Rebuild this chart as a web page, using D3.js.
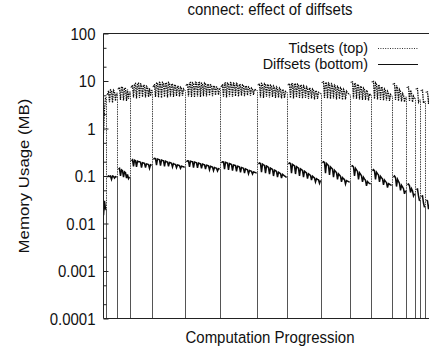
<!DOCTYPE html>
<html>
<head>
<meta charset="utf-8">
<title>connect: effect of diffsets</title>
<script src="https://d3js.org/d3.v7.min.js"></script>
<style>
  body { margin: 0; background: #fff; }
  text { font-family: "Liberation Sans", Arial, sans-serif; fill: #111; }
</style>
</head>
<body>
<div id="chartDiv"></div>
<script>
// memory usage (MB), one value per progression step, one array per run between resets
var tidsetRuns = [
  [0.8, 2.5, 4.5],
  [5.2, 6.2, 3.6, 6.5, 6.3, 3.5, 6.4, 6.0, 3.8, 5.6],
  [6.8, 7.4, 4.0, 7.6, 7.3, 3.9, 7.2, 6.9, 3.8, 6.6, 4.2, 5.9],
  [7.4, 8.2, 4.5, 8.6, 8.9, 4.3, 8.8, 9.0, 4.4, 8.7, 8.4, 4.6, 8.3, 8.0, 4.5, 7.8, 7.4, 4.6, 7.0, 4.8, 6.4],
  [7.6, 8.6, 4.6, 9.0, 9.2, 4.5, 9.3, 9.0, 4.4, 9.4, 9.1, 4.6, 9.2, 8.9, 4.5, 9.3, 8.8, 4.7, 8.7, 8.5, 4.6, 8.4, 8.0, 4.8, 7.9, 7.6, 4.7, 7.4, 7.0, 4.9, 6.8, 6.3],
  [8.1, 8.8, 4.7, 9.1, 9.3, 4.6, 9.2, 8.9, 4.5, 9.4, 9.2, 4.7, 9.1, 9.3, 4.6, 9.0, 8.8, 4.8, 9.1, 8.7, 4.7, 8.6, 8.4, 4.9, 8.3, 8.1, 4.8, 7.9, 7.7, 5.0, 7.5, 7.3, 5.1, 7.0],
  [7.6, 8.5, 4.6, 8.9, 9.1, 4.5, 9.0, 8.7, 4.7, 9.2, 8.9, 4.6, 9.0, 8.6, 4.8, 8.9, 8.5, 4.7, 8.6, 8.2, 4.9, 8.3, 8.0, 4.8, 7.9, 7.6, 5.0, 7.5, 7.2, 4.9, 7.1, 6.8, 5.1, 6.7, 6.5, 6.3],
  [8.3, 8.8, 4.5, 8.9, 8.6, 4.4, 8.8, 8.4, 4.6, 8.5, 8.1, 4.5, 8.2, 7.8, 4.6, 7.9, 7.4, 4.4, 7.5, 7.0, 4.5, 7.1, 6.6, 4.3, 6.7, 6.3, 4.4, 6.0, 5.7],
  [8.3, 8.9, 4.4, 9.0, 8.7, 4.3, 8.9, 8.5, 4.5, 8.6, 8.2, 4.4, 8.3, 7.9, 4.3, 8.0, 7.5, 4.4, 7.6, 7.1, 4.2, 7.2, 6.7, 4.3, 6.8, 6.4, 4.1, 6.3, 6.0, 4.2, 5.8, 5.6, 5.4],
  [9.3, 9.6, 4.4, 9.4, 9.0, 4.3, 9.1, 8.6, 4.2, 8.7, 8.2, 4.3, 8.2, 7.7, 4.1, 7.7, 7.2, 4.2, 7.2, 6.7, 4.0, 6.7, 6.2, 4.1, 6.1, 5.7, 5.4, 5.1],
  [9.4, 9.6, 4.3, 9.1, 8.6, 4.2, 8.5, 8.0, 4.1, 7.8, 7.3, 4.0, 7.1, 6.6, 4.0, 6.4, 5.9, 3.9, 5.4, 5.0],
  [9.6, 9.8, 4.2, 9.2, 8.6, 4.1, 8.4, 7.8, 4.0, 7.6, 7.0, 3.9, 6.8, 6.3, 3.9, 6.1, 5.6, 3.8, 5.2, 4.8],
  [8.6, 8.8, 4.0, 8.0, 7.2, 3.8, 6.6, 6.0, 3.7, 5.5, 5.1, 3.6, 4.6],
  [7.3, 7.5, 3.8, 6.4, 5.6, 3.6, 4.8, 4.3],
  [6.8, 6.9, 3.6, 4.0],
  [6.3, 6.4, 3.4, 3.7],
  [5.8, 5.9, 3.3, 5.0, 4.5, 3.2, 4.0, 3.6, 3.4]
];

var diffsetRuns = [
  [0.015, 0.03, 0.02],
  [0.095, 0.1, 0.098, 0.1, 0.085, 0.1, 0.098, 0.09, 0.097, 0.095],
  [0.14, 0.145, 0.1, 0.135, 0.13, 0.095, 0.122, 0.117, 0.09, 0.108, 0.088, 0.095],
  [0.21, 0.22, 0.16, 0.215, 0.21, 0.155, 0.205, 0.2, 0.2, 0.195, 0.15, 0.19, 0.188, 0.185, 0.15, 0.18, 0.178, 0.175, 0.145, 0.172, 0.168],
  [0.225, 0.236, 0.232, 0.17, 0.228, 0.224, 0.22, 0.165, 0.216, 0.212, 0.21, 0.16, 0.205, 0.2, 0.198, 0.16, 0.193, 0.19, 0.186, 0.155, 0.182, 0.178, 0.175, 0.15, 0.171, 0.168, 0.165, 0.145, 0.161, 0.158, 0.156, 0.153],
  [0.2, 0.21, 0.208, 0.155, 0.205, 0.202, 0.2, 0.15, 0.197, 0.194, 0.19, 0.148, 0.187, 0.184, 0.181, 0.145, 0.178, 0.175, 0.172, 0.14, 0.169, 0.166, 0.163, 0.135, 0.16, 0.157, 0.154, 0.13, 0.151, 0.148, 0.146, 0.128, 0.143, 0.14],
  [0.19, 0.2, 0.198, 0.14, 0.194, 0.19, 0.187, 0.135, 0.183, 0.179, 0.175, 0.13, 0.171, 0.168, 0.165, 0.125, 0.161, 0.158, 0.155, 0.12, 0.151, 0.148, 0.145, 0.115, 0.141, 0.138, 0.135, 0.112, 0.131, 0.128, 0.125, 0.11, 0.122, 0.12, 0.118, 0.116],
  [0.18, 0.188, 0.184, 0.12, 0.178, 0.172, 0.167, 0.115, 0.162, 0.157, 0.152, 0.11, 0.147, 0.142, 0.138, 0.1, 0.133, 0.129, 0.125, 0.095, 0.12, 0.116, 0.112, 0.09, 0.108, 0.104, 0.1, 0.097, 0.094],
  [0.18, 0.188, 0.183, 0.115, 0.176, 0.17, 0.164, 0.11, 0.158, 0.152, 0.147, 0.1, 0.141, 0.136, 0.131, 0.095, 0.126, 0.121, 0.116, 0.088, 0.111, 0.107, 0.103, 0.082, 0.099, 0.095, 0.091, 0.075, 0.088, 0.085, 0.083, 0.07, 0.08],
  [0.19, 0.2, 0.194, 0.115, 0.183, 0.174, 0.165, 0.105, 0.156, 0.148, 0.14, 0.095, 0.132, 0.125, 0.118, 0.085, 0.111, 0.105, 0.099, 0.075, 0.093, 0.088, 0.084, 0.068, 0.08, 0.078, 0.076, 0.074],
  [0.16, 0.165, 0.155, 0.1, 0.145, 0.135, 0.125, 0.085, 0.117, 0.109, 0.101, 0.075, 0.094, 0.087, 0.081, 0.062, 0.076, 0.072, 0.07, 0.068],
  [0.13, 0.136, 0.128, 0.085, 0.12, 0.112, 0.105, 0.075, 0.098, 0.092, 0.087, 0.065, 0.082, 0.077, 0.073, 0.057, 0.069, 0.067, 0.065, 0.064],
  [0.095, 0.1, 0.093, 0.06, 0.085, 0.077, 0.07, 0.05, 0.064, 0.059, 0.054, 0.042, 0.049],
  [0.066, 0.068, 0.062, 0.045, 0.054, 0.049, 0.038, 0.042],
  [0.052, 0.053, 0.038, 0.03],
  [0.037, 0.038, 0.027, 0.022],
  [0.031, 0.03, 0.02, 0.025, 0.021, 0.016, 0.018, 0.016, 0.015]
];

var yTickValues = [0.0001, 0.001, 0.01, 0.1, 1, 10, 100];
var yTickLabels = ["0.0001", "0.001", "0.01", "0.1", "1", "10", "100"];
var yMinorTicks = [0.0002, 0.0005, 0.002, 0.005, 0.02, 0.05, 0.2, 0.5, 2, 5, 20, 50];
var seriesNames = ["Tidsets (top)", "Diffsets (bottom)"];

// give every value its progression step; one step between runs is the reset (memory freed)
function layoutRuns(runs) {
  var pos = 0, out = [];
  runs.forEach(function(run, i) {
    if (i > 0) pos++;
    out.push(run.map(function(v, j) { return {step: pos + j, value: v}; }));
    pos += run.length;
  });
  return out;
}

function resetsOf(runs) {
  var out = [];
  for (var i = 1; i < runs.length; i++) {
    var prev = runs[i - 1][runs[i - 1].length - 1];
    var next = runs[i][0];
    out.push({step: prev.step + 1, before: prev, after: next});
  }
  return out;
}

var svgW = 429, svgH = 351;
var margin = {top: 33.5, left: 103.5};
var width = 332, height = 285;
var stretch = 1.12;   // source figure is slightly taller than wide

var svg = d3.select('#chartDiv').append('svg')
  .attr('width', svgW)
  .attr('height', svgH);

var main = svg.append('g')
  .attr('transform', 'translate(' + margin.left + ',' + margin.top + ')');

var x = d3.scaleLinear().domain([0, 332]).range([0, width]);
var y = d3.scaleLog().domain([0.0001, 100]).range([height, 0]);

main.append('clipPath').attr('id', 'plotClip')
  .append('rect').attr('x', 0).attr('y', 0).attr('width', width).attr('height', height);

var line = d3.line()
  .x(function(d) { return x(d.step); })
  .y(function(d) { return y(d.value); });

// drop to zero at a reset and back up
function dropPath(r) {
  var xs = x(r.step);
  return 'M' + x(r.before.step) + ',' + y(r.before.value) +
    'L' + xs + ',' + y(r.before.value) +
    'V' + (height + 5) +
    'M' + xs + ',' + y(r.after.value) +
    'L' + x(r.after.step) + ',' + y(r.after.value);
}

var plot = main.append('g').attr('clip-path', 'url(#plotClip)');

function drawSeries(runs, stroke, width, dash, dropStroke) {
  var laid = layoutRuns(runs);
  var g = plot.append('g');
  g.selectAll('path.drop')
    .data(resetsOf(laid))
    .enter().append('path')
      .attr('class', 'drop')
      .attr('d', dropPath)
      .attr('fill', 'none')
      .attr('stroke', dropStroke)
      .attr('stroke-width', 1)
      .attr('stroke-dasharray', dash);
  g.selectAll('path.run')
    .data(laid)
    .enter().append('path')
      .attr('class', 'run')
      .attr('d', line)
      .attr('fill', 'none')
      .attr('stroke', stroke)
      .attr('stroke-width', width)
      .attr('stroke-dasharray', dash);
}

drawSeries(tidsetRuns, '#0a0a0a', 1.25, '1.5,0.9', '#444');
drawSeries(diffsetRuns, '#0a0a0a', 1.5, null, '#555');

// y axis major and minor ticks (inward)
var yAxis = d3.axisLeft(y)
  .tickValues(yTickValues)
  .tickFormat(function(d, i) { return yTickLabels[i]; })
  .tickSize(-5)
  .tickPadding(8);

var yg = main.append('g').call(yAxis);
yg.select('.domain').remove();
yg.selectAll('line').attr('stroke', '#222');
yg.selectAll('text')
  .attr('font-size', 15)
  .attr('fill', '#111')
  .attr('font-family', '"Liberation Sans", Arial, sans-serif')
  .attr('dy', null)
  .attr('dominant-baseline', 'central')
  .attr('transform', 'scale(1,' + stretch + ')')
  .attr('y', 0);

var yMinor = d3.axisLeft(y)
  .tickValues(yMinorTicks)
  .tickFormat('')
  .tickSize(-3);
var ym = main.append('g').call(yMinor);
ym.select('.domain').remove();
ym.selectAll('line').attr('stroke', '#222');

// border
main.append('path')
  .attr('d', 'M' + (width + 10) + ',0H0V' + height + 'H' + (width + 10))
  .attr('fill', 'none')
  .attr('stroke', '#222')
  .attr('stroke-width', 1);

function stretchedText(tx, ty, str, anchor, size, sy) {
  return svg.append('text')
    .attr('transform', 'translate(' + tx + ',' + ty + ') scale(1,' + sy + ')')
    .attr('text-anchor', anchor)
    .attr('font-size', size)
    .text(str);
}

// title and axis labels
stretchedText(270, 15, 'connect: effect of diffsets', 'middle', 15, stretch);
stretchedText(270, 343, 'Computation Progression', 'middle', 15, stretch);

svg.append('text')
  .attr('transform', 'translate(29,176) rotate(-90) scale(' + stretch + ',1)')
  .attr('text-anchor', 'middle')
  .attr('font-size', 15)
  .text('Memory Usage (MB)');

// legend
var legendY = [47.5, 64.3];
var legendStyles = [
  {stroke: '#333', dash: '1,1.4'},
  {stroke: '#111', dash: null}
];
seriesNames.forEach(function(name, i) {
  stretchedText(368, legendY[i] + 5, name, 'end', 14.4, 1);
  svg.append('line')
    .attr('x1', 378).attr('x2', 418)
    .attr('y1', Math.round(legendY[i]) + 0.5).attr('y2', Math.round(legendY[i]) + 0.5)
    .attr('stroke', legendStyles[i].stroke)
    .attr('stroke-width', 1)
    .attr('stroke-dasharray', legendStyles[i].dash);
});
</script>
</body>
</html>
